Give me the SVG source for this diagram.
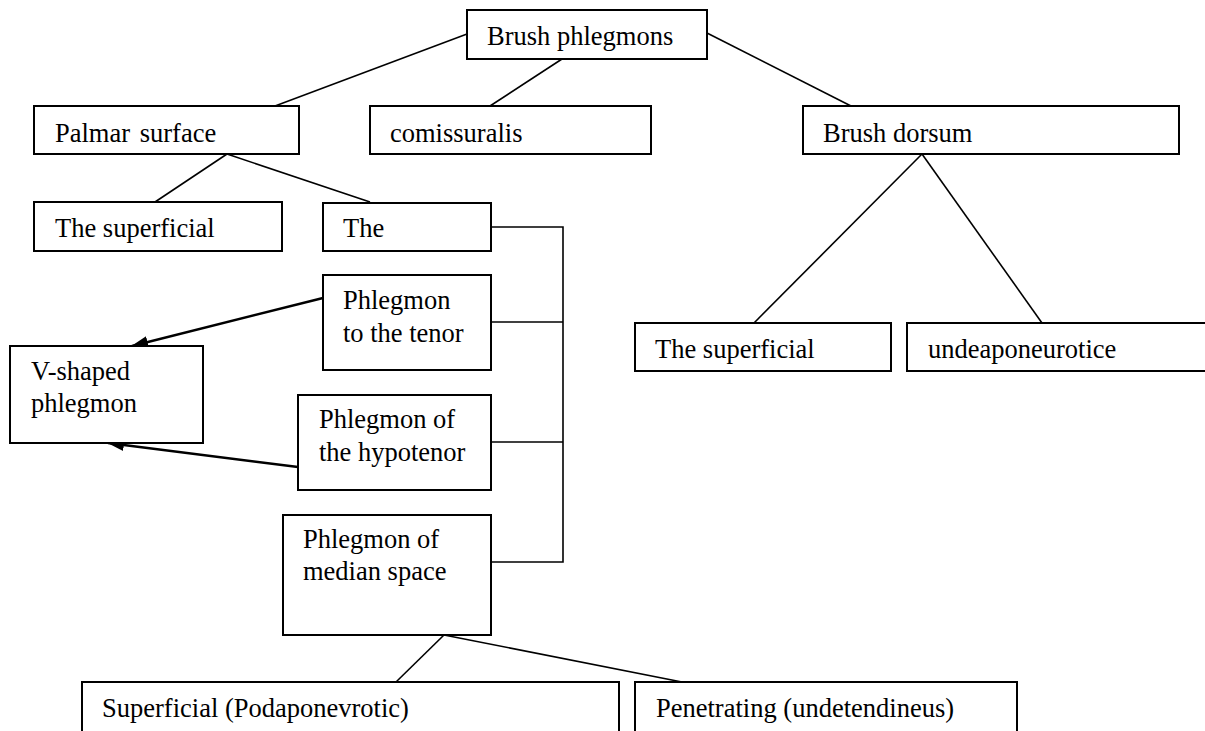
<svg xmlns="http://www.w3.org/2000/svg" width="1205" height="731" viewBox="0 0 1205 731">
  <style>
    .box { fill: #fff; stroke: #000; stroke-width: 2; }
    .lbl { font-family: "Liberation Serif", "Times New Roman", serif; font-size: 26.5px; fill: #000; }
    .ln { fill: none; stroke: #000; stroke-width: 1.6; }
    .arr { fill: none; stroke: #000; stroke-width: 2.4; marker-end: url(#head); }
  </style>
  <defs>
    <marker id="head" viewBox="0 0 17 12" refX="16" refY="6" markerWidth="17" markerHeight="12" markerUnits="userSpaceOnUse" orient="auto">
      <path d="M0,0 L17,6 L0,12 Z" fill="#000"/>
    </marker>
  </defs>
  <rect width="1205" height="731" fill="#fff"/>

  <g id="connectors">
    <line class="ln" x1="467" y1="34" x2="275" y2="106"/>
    <line class="ln" x1="562" y1="59" x2="490" y2="106"/>
    <line class="ln" x1="707" y1="33" x2="851" y2="106"/>
    <line class="ln" x1="227" y1="154" x2="155" y2="202"/>
    <line class="ln" x1="227" y1="154" x2="370" y2="202"/>
    <line class="ln" x1="922" y1="154" x2="754" y2="323"/>
    <line class="ln" x1="922" y1="154" x2="1042" y2="323"/>
    <polyline class="ln" points="491,227 563,227 563,562 491,562"/>
    <line class="ln" x1="491" y1="322" x2="563" y2="322"/>
    <line class="ln" x1="491" y1="442" x2="563" y2="442"/>
    <line class="arr" x1="323" y1="298" x2="132" y2="346"/>
    <line class="arr" x1="298" y1="467" x2="108" y2="443"/>
    <line class="ln" x1="444" y1="635" x2="396" y2="682"/>
    <line class="ln" x1="444" y1="635" x2="682" y2="682"/>
  </g>

  <g id="brush-phlegmons">
    <rect class="box" x="467" y="10" width="240" height="49"/>
    <text class="lbl" x="487" y="45">Brush phlegmons</text>
  </g>
  <g id="palmar-surface">
    <rect class="box" x="34" y="106" width="265" height="48"/>
    <text class="lbl" x="55" y="142">Palmar <tspan dx="3">surface</tspan></text>
  </g>
  <g id="comissuralis">
    <rect class="box" x="370" y="106" width="281" height="48"/>
    <text class="lbl" x="390" y="142">comissuralis</text>
  </g>
  <g id="brush-dorsum">
    <rect class="box" x="803" y="106" width="376" height="48"/>
    <text class="lbl" x="823" y="142">Brush dorsum</text>
  </g>
  <g id="palmar-superficial">
    <rect class="box" x="34" y="202" width="248" height="49"/>
    <text class="lbl" x="55" y="237">The superficial</text>
  </g>
  <g id="palmar-deep">
    <rect class="box" x="323" y="203" width="168" height="48"/>
    <text class="lbl" x="343" y="237">The</text>
  </g>
  <g id="tenor">
    <rect class="box" x="323" y="275" width="168" height="95"/>
    <text class="lbl" x="343" y="309">Phlegmon</text>
    <text class="lbl" x="343" y="342">to the tenor</text>
  </g>
  <g id="v-shaped">
    <rect class="box" x="10" y="346" width="193" height="97"/>
    <text class="lbl" x="31" y="380">V-shaped</text>
    <text class="lbl" x="31" y="412">phlegmon</text>
  </g>
  <g id="hypotenor">
    <rect class="box" x="298" y="395" width="193" height="95"/>
    <text class="lbl" x="319" y="428">Phlegmon of</text>
    <text class="lbl" x="319" y="461">the hypotenor</text>
  </g>
  <g id="median-space">
    <rect class="box" x="283" y="515" width="208" height="120"/>
    <text class="lbl" x="303" y="548">Phlegmon of</text>
    <text class="lbl" x="303" y="580">median space</text>
  </g>
  <g id="dorsum-superficial">
    <rect class="box" x="635" y="323" width="256" height="48"/>
    <text class="lbl" x="655" y="358">The superficial</text>
  </g>
  <g id="undeaponeurotice">
    <rect class="box" x="907" y="323" width="310" height="48"/>
    <text class="lbl" x="928" y="358">undeaponeurotice</text>
  </g>
  <g id="podaponevrotic">
    <rect class="box" x="82" y="682" width="537" height="60"/>
    <text class="lbl" x="102" y="717">Superficial (Podaponevrotic)</text>
  </g>
  <g id="penetrating">
    <rect class="box" x="635" y="682" width="382" height="60"/>
    <text class="lbl" x="656" y="717">Penetrating (undetendineus)</text>
  </g>
</svg>
